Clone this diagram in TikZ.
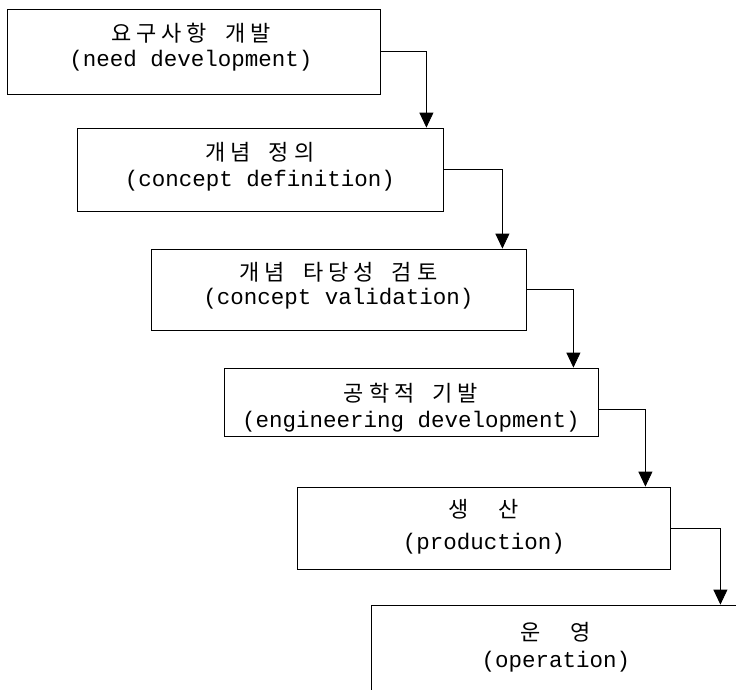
\documentclass[tikz,border=0pt]{standalone}
\usepackage{fontspec}
\newfontfamily\krfont{Noto Sans CJK KR}
\newfontfamily\enfont{Liberation Mono}
\usetikzlibrary{arrows.meta}
\newcommand\ksp{\hspace{5pt}}
\newcommand\kwd{\hspace{18pt}}
\begin{document}
\begin{tikzpicture}[x=1pt,y=-1pt,
  stagebox/.style={draw=black, line width=0.8pt, rectangle, inner sep=0pt},
  krtext/.style={font=\krfont\fontsize{22}{22}\selectfont, inner sep=0pt, text height=17.5pt, text depth=1.5pt},
  entext/.style={font=\enfont\fontsize{22.5}{22.5}\selectfont, inner sep=0pt, text height=16.5pt, text depth=4.5pt},
  flow/.style={draw=black, line width=0.8pt, -{Triangle[width=14pt,length=15pt]}}]
\useasboundingbox (0,0) rectangle (736,689);
% boxes
\node[stagebox, minimum width=373pt, minimum height=85pt] (b1) at (193.5,51.5) {};
\node[stagebox, minimum width=366pt, minimum height=83pt] (b2) at (260,169.5) {};
\node[stagebox, minimum width=375pt, minimum height=81pt] (b3) at (338.5,289.5) {};
\node[stagebox, minimum width=374pt, minimum height=68pt] (b4) at (411,402) {};
\node[stagebox, minimum width=373pt, minimum height=82pt] (b5) at (483.5,528) {};
\node[stagebox, minimum width=372pt, minimum height=95pt] (b6) at (557,652.5) {};
% texts
\node[krtext] (k1) at (191,33) {요\ksp 구\ksp 사\ksp 항\kwd 개\ksp 발};
\node[entext] (e1) at (191,60) {(need development)};
\node[krtext] (k2) at (260,152) {개\ksp 념\kwd 정\ksp 의};
\node[entext] (e2) at (260,180) {(concept definition)};
\node[krtext] (k3) at (338.5,272) {개\ksp 념\kwd 타\ksp 당\ksp 성\kwd 검\ksp 토};
\node[entext] (e3) at (338.5,298) {(concept validation)};
\node[krtext] (k4) at (411,393) {공\ksp 학\ksp 적\kwd 기\ksp 발};
\node[entext] (e4) at (411,421) {(engineering development)};
\node[krtext] (k5) at (484,509) {생\hspace{30pt}산};
\node[entext] (e5) at (484,543) {(production)};
\node[krtext] (k6) at (556,632) {운\hspace{30pt}영};
\node[entext] (e6) at (556,661) {(operation)};
% connectors
\draw[flow] (b1.east) -| ([xshift=-17pt]b2.north east);
\draw[flow] (b2.east) -| ([xshift=-24pt]b3.north east);
\draw[flow] (b3.east) -| ([xshift=-25pt]b4.north east);
\draw[flow] ([yshift=-7pt]b4.east) -| ([xshift=-25pt]b5.north east);
\draw[flow] (b5.east) -| ([xshift=-23pt]b6.north east);
\end{tikzpicture}
\end{document}
